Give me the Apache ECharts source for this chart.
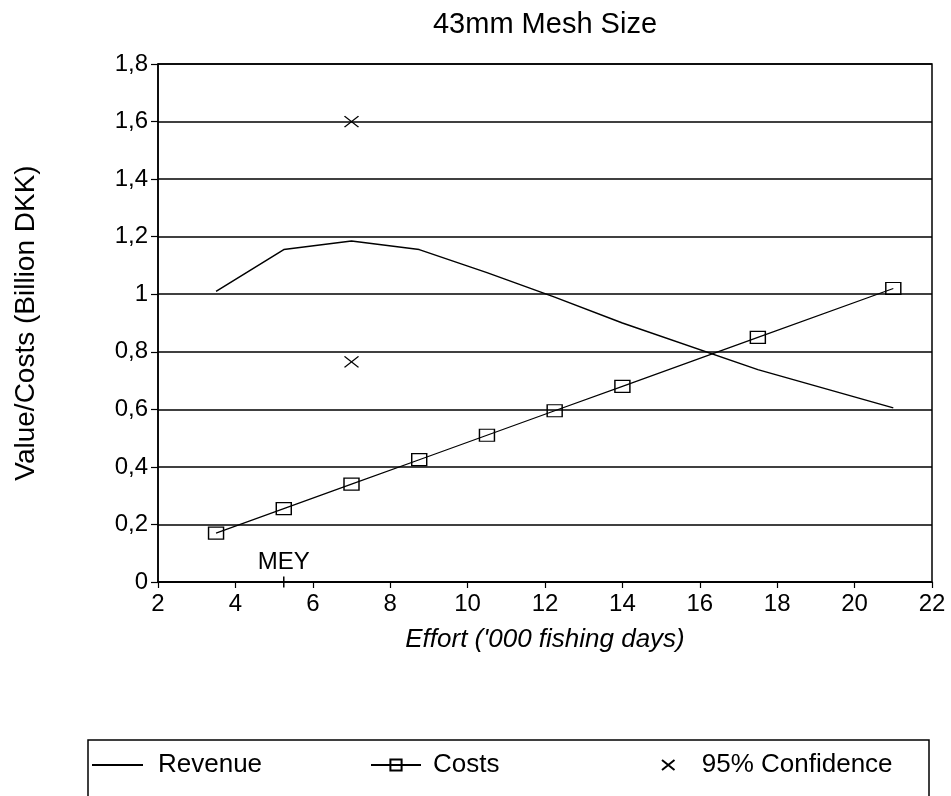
<!DOCTYPE html>
<html>
<head>
<meta charset="utf-8">
<script src="https://cdn.jsdelivr.net/npm/echarts@6/dist/echarts.min.js"></script>
<style>html,body{margin:0;padding:0;background:#fff;}#c{width:951px;height:796px;}</style>
</head>
<body>
<div id="c"></div>
<script>
const effort = [3.5, 5.25, 7, 8.75, 10.5, 12.25, 14, 17.5, 21];
const revenue = [1.01, 1.155, 1.185, 1.155, 1.075, 0.99, 0.90, 0.738, 0.605];
const costs = [0.17, 0.255, 0.34, 0.425, 0.51, 0.595, 0.68, 0.85, 1.02];
const confEffort = [7, 7];
const confValue = [1.6, 0.765];
const meyEffort = [5.25];
const meyValue = [0];
const meyLabel = 'MEY';
const titleText = '43mm Mesh Size';
const xName = "Effort ('000 fishing days)";
const yName = 'Value/Costs (Billion DKK)';
const seriesNames = ['Revenue', 'Costs', '95% Confidence'];

const FONT = 'Liberation Sans, Arial, Helvetica, sans-serif';
const zip = (a, b) => a.map((v, i) => [v, b[i]]);

const chart = echarts.init(document.getElementById('c'), null, {renderer: 'canvas'});
chart.setOption({
  backgroundColor: '#fff',
  animation: false,
  textStyle: {fontFamily: FONT, color: '#000'},
  title: {
    text: titleText,
    left: 540,
    top: 5,
    textAlign: 'center',
    textStyle: {fontFamily: FONT, fontSize: 29, fontWeight: 'normal', color: '#000'}
  },
  grid: {
    left: 158, right: 19, top: 64, bottom: 214,
    show: true, borderColor: '#000', borderWidth: 1.5, backgroundColor: 'transparent'
  },
  xAxis: {
    type: 'value', min: 2, max: 22, interval: 2,
    name: xName, nameLocation: 'middle', nameGap: 45,
    nameTextStyle: {fontFamily: FONT, fontSize: 26, fontStyle: 'italic', color: '#000'},
    axisLine: {show: true, lineStyle: {color: '#000', width: 1.5}},
    axisTick: {show: true, inside: false, length: 6, lineStyle: {color: '#000', width: 1.2}},
    axisLabel: {fontFamily: FONT, fontSize: 24, color: '#000', margin: 10},
    splitLine: {show: false}
  },
  yAxis: {
    type: 'value', min: 0, max: 1.8, interval: 0.2,
    name: yName, nameLocation: 'middle', nameGap: 118,
    nameTextStyle: {fontFamily: FONT, fontSize: 28, color: '#000'},
    axisLine: {show: true, lineStyle: {color: '#000', width: 1.5}},
    axisTick: {show: true, inside: false, length: 7, lineStyle: {color: '#000', width: 1.2}},
    axisLabel: {
      fontFamily: FONT, fontSize: 24, color: '#000', margin: 10,
      formatter: v => String(Math.round(v * 10) / 10).replace('.', ',')
    },
    splitLine: {show: true, lineStyle: {color: '#000', width: 1.5}}
  },
  legend: [
    {data: [{name: seriesNames[0], icon: 'rect'}], left: 92, top: 752, padding: 0, itemWidth: 51, itemHeight: 2,
     textStyle: {fontFamily: FONT, fontSize: 26, color: '#000', padding: [0, 0, 0, 10]}},
    {data: [seriesNames[1]], left: 370, top: 752, padding: 0, itemWidth: 50, itemHeight: 14,
     textStyle: {fontFamily: FONT, fontSize: 26, color: '#000', padding: [0, 0, 0, 7]}},
    {data: [seriesNames[2]], left: 661, top: 752, padding: 0, itemWidth: 13, itemHeight: 10,
     textStyle: {fontFamily: FONT, fontSize: 26, color: '#000', padding: [0, 0, 0, 22]}}
  ],
  graphic: [
    {type: 'rect', shape: {x: 88, y: 740, width: 841, height: 80},
     style: {fill: 'none', stroke: '#000', lineWidth: 1.5}, silent: true, z: -1}
  ],
  series: [
    {
      name: seriesNames[0], type: 'line', data: zip(effort, revenue),
      symbol: 'none', lineStyle: {color: '#000', width: 1.5}, itemStyle: {color: '#000'}
    },
    {
      name: seriesNames[1], type: 'line', data: zip(effort, costs),
      symbol: 'rect', symbolSize: [15, 12], showAllSymbol: true,
      lineStyle: {color: '#000', width: 1.2},
      itemStyle: {color: 'rgba(255,255,255,0)', borderColor: '#000', borderWidth: 1.3}
    },
    {
      name: seriesNames[2], type: 'scatter', data: zip(confEffort, confValue),
      symbol: 'path://M0,0L10,8M10,0L0,8', symbolSize: [14, 11],
      itemStyle: {color: 'rgba(0,0,0,0)', borderColor: '#000', borderWidth: 1.3, opacity: 1}
    },
    {
      name: 'MEY', type: 'scatter', data: zip(meyEffort, meyValue), clip: false,
      symbol: 'rect', symbolSize: [1.5, 11],
      itemStyle: {color: '#000', opacity: 1},
      label: {show: true, position: 'top', distance: 2, formatter: meyLabel,
              fontFamily: FONT, fontSize: 24, color: '#000'},
      z: 5
    }
  ]
});
</script>
</body>
</html>
